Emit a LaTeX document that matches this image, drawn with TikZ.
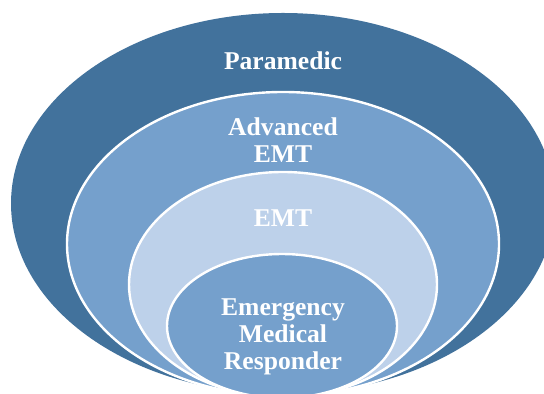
\documentclass[tikz,border=0pt]{standalone}
\usepackage{fontspec}
\setmainfont{Liberation Serif}
\definecolor{darkband}{RGB}{66,114,156}
\definecolor{midband}{RGB}{117,160,204}
\definecolor{lightband}{RGB}{189,209,234}
\tikzset{
  level/.style={align=center,text=white,font=\bfseries\fontsize{12.8}{13.5}\selectfont},
  ring/.style={draw=white,line width=1.2pt}
}
\begin{document}
\begin{tikzpicture}[x=0.5pt,y=-0.5pt]
      \useasboundingbox (0,0) rectangle (544,394);
      \clip (0,0) rectangle (544,394);
      % rings, outer to inner, all touching at the bottom
      \fill[darkband] (283,203.5) ellipse [x radius=272,y radius=190.5];
      \fill[midband,ring] (283,244) ellipse [x radius=216,y radius=152];
      \fill[lightband,ring] (283,284.5) ellipse [x radius=154,y radius=112.5];
      \fill[midband,ring] (282,326) ellipse [x radius=115,y radius=72];
      \node[level] (paramedic) at (283,60.5) {Paramedic};
      \node[level] (aemt) at (283,140) {Advanced\\EMT};
      \node[level] (emt) at (283,218.5) {EMT};
      \node[level] (emr) at (283,336.5) {Emergency\\Medical\\Responder};
    \end{tikzpicture}
\end{document}
